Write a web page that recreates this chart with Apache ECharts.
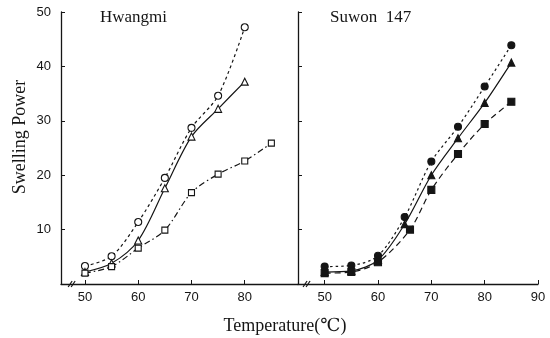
<!DOCTYPE html>
<html><head><meta charset="utf-8">
<script src="https://cdn.jsdelivr.net/npm/echarts@6/dist/echarts.min.js"></script>
<style>html,body{margin:0;padding:0;background:#fff}#c{width:550px;height:338px}</style>
</head><body><div id="c"></div>
<script>
// ---- data ----
const panelTitles = ['Hwangmi', 'Suwon  147'];
const yTicks = [10, 20, 30, 40, 50];
const xTicksLeft = [50, 60, 70, 80];
const xTicksRight = [50, 60, 70, 80, 90];

const hwTemps7 = [50, 55, 60, 65, 70, 75, 80];
const hwTemps8 = [50, 55, 60, 65, 70, 75, 80, 85];
const hwCircle = [3.3, 5.1, 11.4, 19.5, 28.7, 34.6, 47.2];
const hwTriangle = [2.2, 3.8, 8.0, 17.6, 27.1, 32.2, 37.2];
const hwSquare = [2.0, 3.2, 6.6, 9.9, 16.8, 20.2, 22.6, 25.9];

const swTemps = [50, 55, 60, 65, 70, 75, 80, 85];
const swSquareTemps = [50, 55, 60, 66, 70, 75, 80, 85];
const swCircle = [3.2, 3.4, 5.2, 12.3, 22.5, 28.9, 36.3, 43.9];
const swTriangle = [2.2, 2.4, 4.4, 11.0, 20.0, 26.8, 33.3, 40.7];
const swSquare = [2.0, 2.2, 4.0, 10.0, 17.3, 23.9, 29.4, 33.5];

const breakAt = [47.5, 46.6];

function pairs(xs, ys) { return xs.map((x, i) => [x, ys[i]]); }

const INK = '#151515';
const SERIF = '"Liberation Serif","DejaVu Serif",serif';
const NUMF = '"Liberation Sans","DejaVu Sans",sans-serif';

function mkSeries(g, data, symbol, filled, dash, size) {
  return {
    type: 'line', xAxisIndex: g, yAxisIndex: g, data: data,
    smooth: 0.3,
    symbol: symbol, symbolSize: size, showAllSymbol: true,
    lineStyle: { color: INK, width: 1.2, type: dash },
    itemStyle: { color: filled ? INK : '#fff', borderColor: INK, borderWidth: 1.1 },
    emphasis: { disabled: true }, animation: false, z: 3
  };
}

function xAxis(g, min, ticks) {
  return {
    type: 'value', gridIndex: g, min: min, max: 90,
    axisLine: { lineStyle: { color: INK, width: 1.3 } },
    axisTick: { inside: true, length: 4, customValues: ticks, lineStyle: { color: INK } },
    axisLabel: { customValues: ticks, color: INK, fontFamily: NUMF, fontSize: 13, margin: 7 },
    splitLine: { show: false }
  };
}
function yAxis(g, showLabel) {
  return {
    type: 'value', gridIndex: g, min: 0, max: 50, interval: 10,
    axisLine: { show: true, lineStyle: { color: INK, width: 1.3 } },
    axisTick: { inside: true, length: 4, lineStyle: { color: INK } },
    axisLabel: { show: showLabel, color: INK, fontFamily: NUMF, fontSize: 13, margin: 10,
      formatter: v => (yTicks.indexOf(v) >= 0 ? String(v) : '') },
    splitLine: { show: false }
  };
}

const chart = echarts.init(document.getElementById('c'), null, { renderer: 'canvas' });
chart.setOption({
  backgroundColor: '#fff',
  animation: false,
  grid: [
    { left: 61, top: 12, width: 237, height: 272 },
    { left: 298, top: 12, width: 240, height: 272 }
  ],
  xAxis: [xAxis(0, 45.5, xTicksLeft), xAxis(1, 45, xTicksRight)],
  yAxis: [yAxis(0, true), yAxis(1, false)],
  series: [
    mkSeries(0, pairs(hwTemps7, hwCircle), 'circle', false, [3, 3], 7),
    mkSeries(0, pairs(hwTemps7, hwTriangle), 'triangle', false, 'solid', 7),
    mkSeries(0, pairs(hwTemps8, hwSquare), 'rect', false, [6, 3, 1.5, 3], 6),
    mkSeries(1, pairs(swTemps, swCircle), 'circle', true, [2.5, 3], 7),
    mkSeries(1, pairs(swTemps, swTriangle), 'triangle', true, 'solid', 7),
    mkSeries(1, pairs(swSquareTemps, swSquare), 'rect', true, [6, 4], 7)
  ]
});

// titles, axis names and break marks
const g = [];
g.push({ type: 'text', x: 100, y: 18, style: { text: panelTitles[0], font: '17px ' + SERIF, fill: INK, verticalAlign: 'middle' } });
g.push({ type: 'text', x: 330, y: 18, style: { text: panelTitles[1], font: '17px ' + SERIF, fill: INK, verticalAlign: 'middle' } });
g.push({ type: 'text', x: 20, y: 137, rotation: Math.PI / 2,
  style: { text: 'Swelling Power', font: '18px ' + SERIF, fill: INK, align: 'center', verticalAlign: 'middle' } });
g.push({ type: 'text', x: 285, y: 326,
  style: { text: 'Temperature(℃)', font: '18px ' + SERIF, fill: INK, align: 'center', verticalAlign: 'middle' } });
[0, 1].forEach(i => {
  const p = chart.convertToPixel({ gridIndex: i }, [breakAt[i], 0]);
  [-1.5, 1.5].forEach(dx => {
    g.push({ type: 'line', shape: { x1: p[0] + dx - 2, y1: p[1] + 3, x2: p[0] + dx + 2, y2: p[1] - 3 },
      style: { stroke: INK, lineWidth: 1.2 } });
  });
});
chart.setOption({ graphic: g });
</script>
</body></html>
